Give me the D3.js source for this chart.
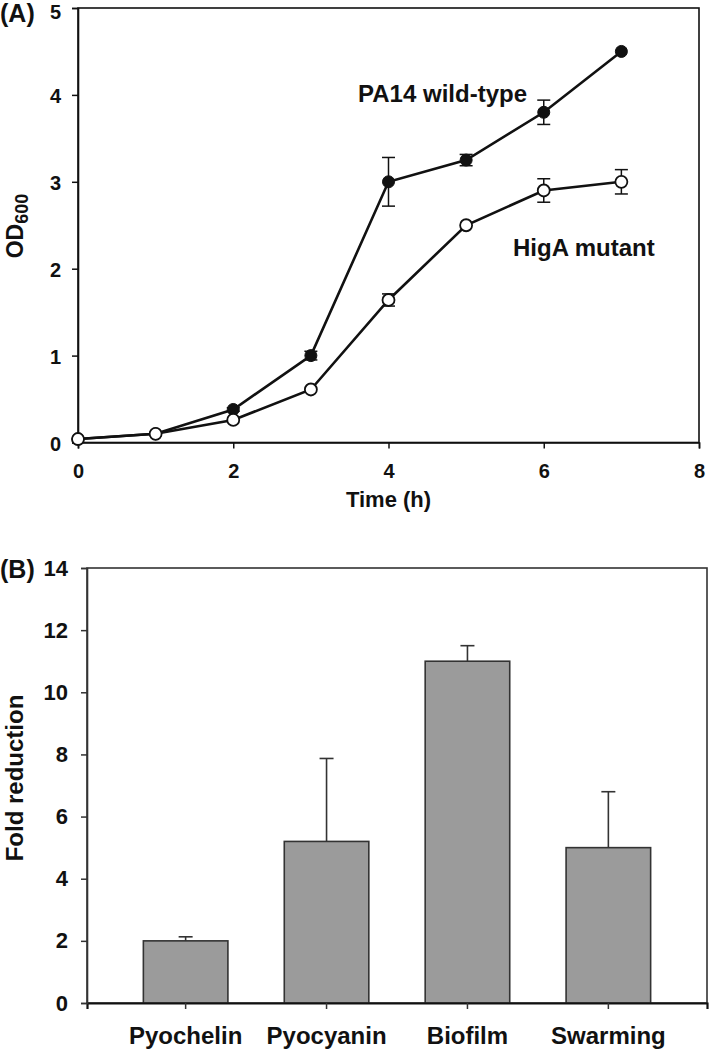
<!DOCTYPE html>
<html>
<head>
<meta charset="utf-8">
<script src="https://cdn.jsdelivr.net/npm/d3@7"></script>
<style>
  html, body { margin: 0; padding: 0; background: #fff; }
  svg { display: block; }
  text { font-family: "Liberation Sans", Arial, sans-serif; font-weight: bold; fill: #111; }
</style>
</head>
<body>
<svg id="chart" width="709" height="1050"></svg>
<script>
// ---------- Data ----------
const times = [0, 1, 2, 3, 4, 5, 6, 7];
const wildType = [0.04, 0.10, 0.38, 1.00, 3.00, 3.25, 3.80, 4.50];
const wildTypeErr = [0, 0, 0.02, 0.05, 0.28, 0.065, 0.14, 0];
const mutant = [0.04, 0.10, 0.26, 0.61, 1.64, 2.50, 2.90, 3.00];
const mutantErr = [0, 0, 0, 0, 0.07, 0, 0.135, 0.14];
const xTicksA = [0, 2, 4, 6, 8];
const yTicksA = [0, 1, 2, 3, 4, 5];

const categories = ["Pyochelin", "Pyocyanin", "Biofilm", "Swarming"];
const foldValues = [2.0, 5.2, 11.0, 5.0];
const foldErr = [0.13, 2.67, 0.5, 1.8];
const yTicksB = [0, 2, 4, 6, 8, 10, 12, 14];

// ---------- Setup ----------
const svg = d3.select("#chart");
const FONT = "Liberation Sans, Arial, sans-serif";

// ---------- Panel A ----------
const A = { left: 78, right: 699, top: 8, bottom: 442.5 };
const xA = d3.scaleLinear().domain([0, 8]).range([A.left, A.right]);
const yA = d3.scaleLinear().domain([0, 5]).range([A.bottom, A.top]);

const gA = svg.append("g");
gA.append("rect").attr("x", A.left).attr("y", A.top)
  .attr("width", A.right - A.left).attr("height", A.bottom - A.top)
  .attr("fill", "none").attr("stroke", "#111").attr("stroke-width", 1.6);

const axAx = gA.append("g").attr("transform", `translate(0,${A.bottom})`)
  .call(d3.axisBottom(xA).tickValues(xTicksA).tickSize(6).tickPadding(15).tickFormat(d3.format("d")));
const axAy = gA.append("g").attr("transform", `translate(${A.left},0)`)
  .call(d3.axisLeft(yA).tickValues(yTicksA).tickSize(6).tickPadding(11).tickFormat(d3.format("d")));
[axAx, axAy].forEach(ax => {
  ax.select(".domain").attr("stroke", "#111").attr("stroke-width", 1.6);
  ax.selectAll(".tick line").attr("stroke", "#111").attr("stroke-width", 1.5);
  ax.selectAll(".tick text").style("font-size", "20px").style("font-family", FONT)
    .style("font-weight", "bold").attr("fill", "#111");
});
axAy.selectAll(".tick text").attr("dy", d => d === 5 ? "0.5em" : "0.38em");

const lineA = d3.line().x((d, i) => xA(times[i])).y(d => yA(d));

function drawErr(g, vals, errs) {
  vals.forEach((v, i) => {
    const e = errs[i];
    if (!e) return;
    const x = xA(times[i]);
    g.append("line").attr("x1", x).attr("x2", x).attr("y1", yA(v - e)).attr("y2", yA(v + e))
      .attr("stroke", "#111").attr("stroke-width", 1.5);
    [v - e, v + e].forEach(c => {
      g.append("line").attr("x1", x - 6.5).attr("x2", x + 6.5).attr("y1", yA(c)).attr("y2", yA(c))
        .attr("stroke", "#111").attr("stroke-width", 1.5);
    });
  });
}
drawErr(gA, wildType, wildTypeErr);
drawErr(gA, mutant, mutantErr);

gA.append("path").datum(wildType).attr("d", lineA)
  .attr("fill", "none").attr("stroke", "#111").attr("stroke-width", 2.6);
gA.append("path").datum(mutant).attr("d", lineA)
  .attr("fill", "none").attr("stroke", "#111").attr("stroke-width", 2.6);

gA.selectAll("circle.wt").data(wildType).enter().append("circle")
  .attr("cx", (d, i) => xA(times[i])).attr("cy", d => yA(d)).attr("r", 6)
  .attr("fill", "#111").attr("stroke", "#111").attr("stroke-width", 1);
gA.selectAll("circle.mu").data(mutant).enter().append("circle")
  .attr("cx", (d, i) => xA(times[i])).attr("cy", d => yA(d)).attr("r", 6)
  .attr("fill", "#fff").attr("stroke", "#111").attr("stroke-width", 1.8);

gA.append("text").attr("x", 527).attr("y", 102).attr("text-anchor", "end")
  .style("font-size", "24px").text("PA14 wild-type");
gA.append("text").attr("x", 513).attr("y", 256)
  .style("font-size", "24px").text("HigA mutant");

gA.append("text").attr("x", (A.left + A.right) / 2).attr("y", 507).attr("text-anchor", "middle")
  .style("font-size", "22px").text("Time (h)");

const odLabel = gA.append("text").attr("transform", "translate(23,226) rotate(-90)")
  .attr("text-anchor", "middle").style("font-size", "23px");
odLabel.append("tspan").text("OD");
odLabel.append("tspan").attr("dy", 5).style("font-size", "18px").text("600");

svg.append("text").attr("x", 0).attr("y", 22).style("font-size", "25px").text("(A)");

// ---------- Panel B ----------
const B = { left: 87, right: 707, top: 568, bottom: 1003 };
const xB = d3.scaleBand().domain(categories).range([B.left, B.right]).paddingInner(0.4).paddingOuter(0.4);
const yB = d3.scaleLinear().domain([0, 14]).range([B.bottom, B.top]);

const gB = svg.append("g");
gB.append("rect").attr("x", B.left).attr("y", B.top)
  .attr("width", B.right - B.left).attr("height", B.bottom - B.top)
  .attr("fill", "none").attr("stroke", "#333").attr("stroke-width", 1.6);

categories.forEach((c, i) => {
  const x = xB(c) + xB.bandwidth() / 2;
  const top = foldValues[i] + foldErr[i];
  gB.append("line").attr("x1", x).attr("x2", x).attr("y1", yB(foldValues[i])).attr("y2", yB(top))
    .attr("stroke", "#333").attr("stroke-width", 1.6);
  gB.append("line").attr("x1", x - 7).attr("x2", x + 7).attr("y1", yB(top)).attr("y2", yB(top))
    .attr("stroke", "#333").attr("stroke-width", 1.6);
});

gB.selectAll("rect.bar").data(foldValues).enter().append("rect")
  .attr("x", (d, i) => xB(categories[i])).attr("y", d => yB(d))
  .attr("width", xB.bandwidth()).attr("height", d => B.bottom - yB(d))
  .attr("fill", "#9b9b9b").attr("stroke", "#333").attr("stroke-width", 1.6);

const axBx = gB.append("g").attr("transform", `translate(0,${B.bottom})`)
  .call(d3.axisBottom(xB).tickSize(6).tickPadding(18));
const axBy = gB.append("g").attr("transform", `translate(${B.left},0)`)
  .call(d3.axisLeft(yB).tickValues(yTicksB).tickSize(6).tickPadding(13).tickFormat(d3.format("d")));
axBx.select(".domain").attr("stroke", "#111").attr("stroke-width", 2.2);
axBy.select(".domain").attr("stroke", "#333").attr("stroke-width", 1.6);
[axBx, axBy].forEach(ax => {
  ax.selectAll(".tick line").attr("stroke", "#333").attr("stroke-width", 1.5);
  ax.selectAll(".tick text").style("font-family", FONT).style("font-weight", "bold").attr("fill", "#111");
});
axBx.selectAll(".tick text").style("font-size", "24px");
axBy.selectAll(".tick text").style("font-size", "22px");

gB.append("text").attr("transform", "translate(22.5,778) rotate(-90)").attr("text-anchor", "middle")
  .style("font-size", "24px").text("Fold reduction");

svg.append("text").attr("x", 0).attr("y", 578).style("font-size", "25px").text("(B)");
</script>
</body>
</html>
